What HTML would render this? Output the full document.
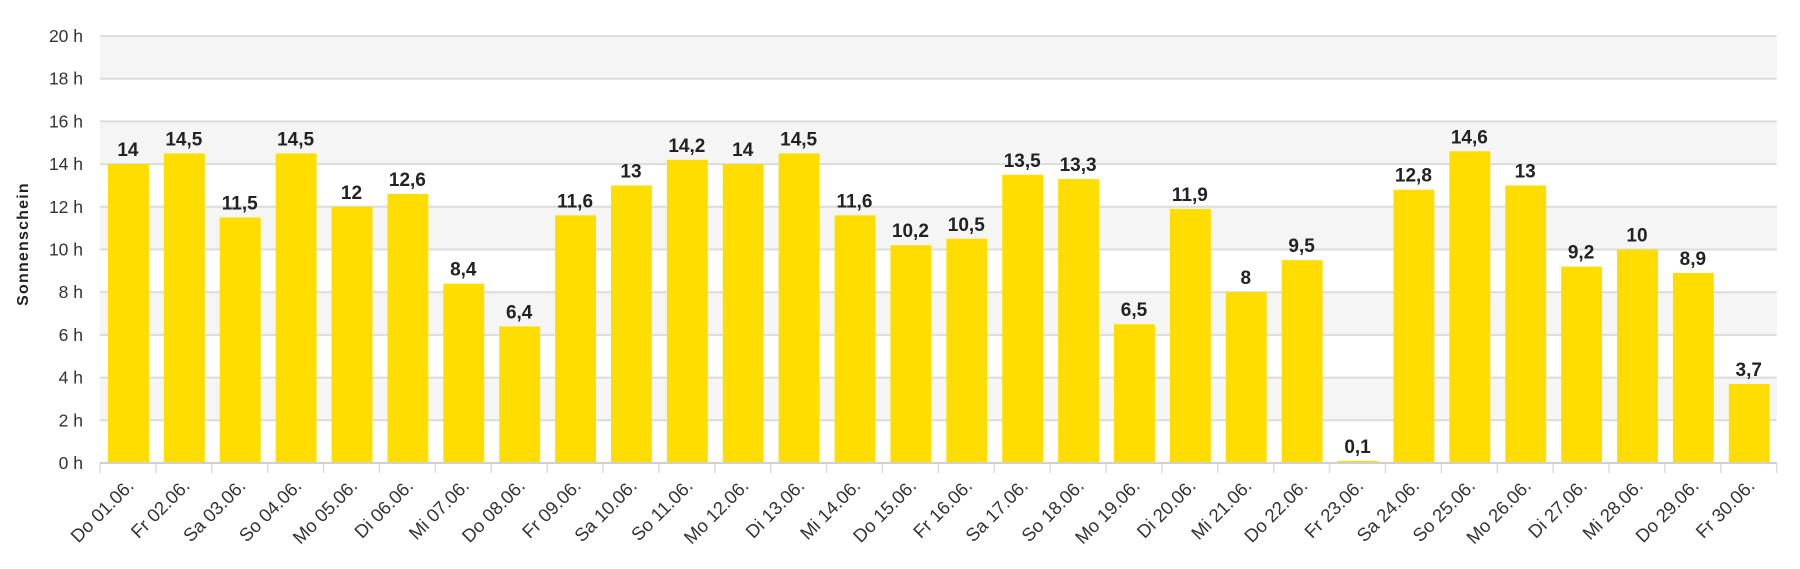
<!DOCTYPE html>
<html><head><meta charset="utf-8"><style>
html,body{margin:0;padding:0;background:#fff;}
svg{display:block;font-family:"Liberation Sans",Arial,sans-serif;}
</style></head><body>
<svg id="c" width="1800" height="569" xmlns="http://www.w3.org/2000/svg"></svg>
<script>
const vals=[14,14.5,11.5,14.5,12,12.6,8.4,6.4,11.6,13,14.2,14,14.5,11.6,10.2,10.5,13.5,13.3,6.5,11.9,8,9.5,0.1,12.8,14.6,13,9.2,10,8.9,3.7];
const days=["Do","Fr","Sa","So","Mo","Di","Mi"];
const L=100,R=1776.7,y0=463,k=21.35,cw=(R-L)/30;
const Y=v=>y0-k*v;
let s='';
for(let v=2;v<=18;v+=4){s+=`<rect x="${L}" y="${Y(v+2)}" width="${R-L}" height="${2*k}" fill="#f5f5f5"/>`;}
for(let v=0;v<=20;v+=2){s+=`<line x1="${L}" x2="${R}" y1="${Y(v)}" y2="${Y(v)}" stroke="#dcdcdc" stroke-width="2"/>`;
s+=`<text x="83" y="${Y(v)+6}" text-anchor="end" font-size="17.5" fill="#333">${v} h</text>`;}
s+=`<text transform="translate(28,244) rotate(-90)" text-anchor="middle" font-size="16" font-weight="bold" letter-spacing="1.2" fill="#222">Sonnenschein</text>`;
for(let i=0;i<30;i++){
 const x=L+i*cw, v=vals[i], c=x+cw/2;
 s+=`<rect x="${x+8}" y="${Y(v)}" width="${cw-15}" height="${k*v}" fill="#ffdd00"/>`;
 s+=`<text x="${c}" y="${Y(v)-8}" text-anchor="middle" font-size="19" font-weight="bold" fill="#222">${String(v).replace('.',',')}</text>`;
 const d=String(i+1).padStart(2,'0');
 s+=`<text transform="translate(${c+7},${y0+24}) rotate(-45)" text-anchor="end" font-size="18.5" fill="#333">${days[i%7]} ${d}.06.</text>`;
}
for(let i=0;i<=30;i++){const x=L+i*cw;s+=`<line x1="${x}" x2="${x}" y1="${y0}" y2="${y0+10}" stroke="#dcdcdc" stroke-width="1.5"/>`;}
s+=`<line x1="${L}" x2="${R}" y1="${y0}" y2="${y0}" stroke="#d0d0d0" stroke-width="2"/>`;
document.getElementById('c').innerHTML=s;
</script>
</body></html>
